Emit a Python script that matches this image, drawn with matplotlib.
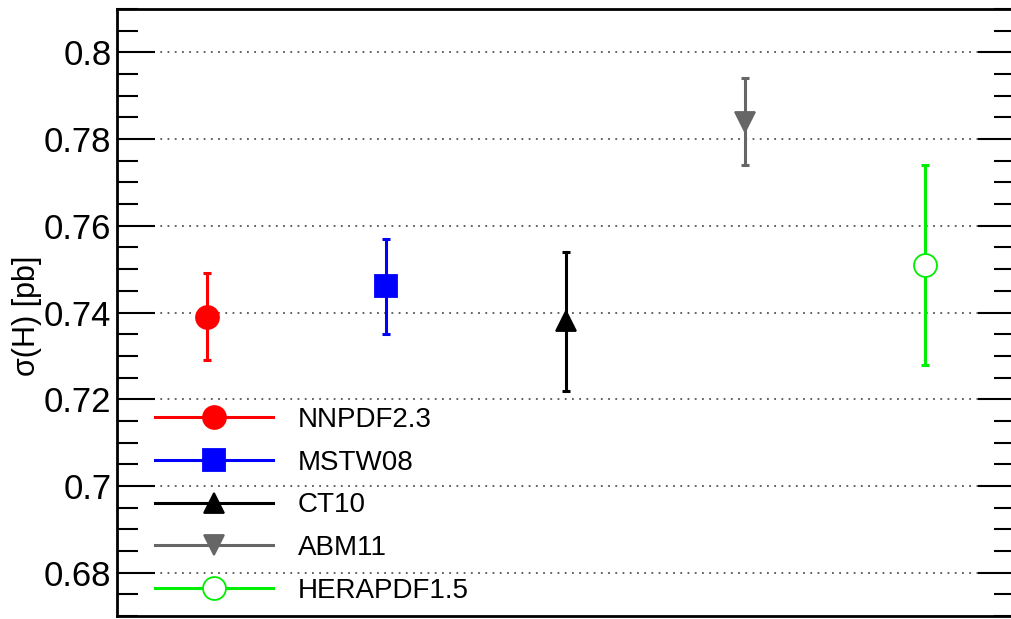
import matplotlib
matplotlib.use("Agg")
import matplotlib.pyplot as plt
from matplotlib.lines import Line2D
from matplotlib.ticker import MultipleLocator, FuncFormatter

plt.rcParams['font.family'] = ['Liberation Sans', 'DejaVu Sans']

pdf_sets = ["NNPDF2.3", "MSTW08", "CT10", "ABM11", "HERAPDF1.5"]
xsec = [0.739, 0.746, 0.738, 0.784, 0.751]
err_up = [0.010, 0.011, 0.016, 0.010, 0.023]
err_dn = [0.010, 0.011, 0.016, 0.010, 0.023]
colors = ["#ff0000", "#0000ff", "#000000", "#666666", "#00ee00"]
markers = ["o", "s", "^", "v", "o"]
filled = [True, True, True, True, False]
msizes = [16.5, 16, 15, 15, 16.5]

fig = plt.figure(figsize=(10.11, 6.19), dpi=100)
ax = fig.add_axes([117 / 1011, 3 / 619, (1014.5 - 117) / 1011, (616 - 9) / 619])

handles = []
for i, name in enumerate(pdf_sets):
    x = i + 1
    fc = colors[i] if filled[i] else "white"
    ax.errorbar([x], [xsec[i]], yerr=[[err_dn[i]], [err_up[i]]], fmt="none",
                ecolor=colors[i], elinewidth=2.2, capsize=2.6, capthick=2.2, zorder=3)
    ax.plot([x], [xsec[i]], marker=markers[i], ms=msizes[i], mfc=fc,
            mec=colors[i], mew=1.3, ls="none", zorder=4)
    handles.append(Line2D([], [], color=colors[i], lw=2.2, marker=markers[i],
                          ms=msizes[i], mfc=fc, mec=colors[i], mew=1.3))

ax.set_xlim(0.5, 5.5)
ax.set_ylim(0.67, 0.81)
ax.set_xticks([])
ax.yaxis.set_major_locator(MultipleLocator(0.02))
ax.yaxis.set_minor_locator(MultipleLocator(0.005))
ax.yaxis.set_major_formatter(FuncFormatter(lambda v, p: ("%g" % round(v, 3))))
ax.tick_params(axis="y", which="major", direction="in", length=27, width=1.5,
               labelsize=25, left=True, right=True, pad=4)
ax.tick_params(axis="y", which="minor", direction="in", length=15, width=1.5,
               left=True, right=True)
ax.grid(axis="y", which="major", ls=(0, (1, 3)), color="#555555", lw=1.3)
for s in ax.spines.values():
    s.set_linewidth(2)

ax.set_ylabel("σ(H) [pb]", fontsize=22)
ax.yaxis.set_label_coords((42 - 117) / 897.5, (616 - 316) / 607)

leg = ax.legend(handles, pdf_sets, loc="upper left",
                bbox_to_anchor=((155 - 117) / 897.5, (616 - 407) / 607),
                frameon=False, fontsize=20, handlelength=4.25, handletextpad=0.9,
                labelspacing=0.6, borderaxespad=0.0, borderpad=0.0)

fig.savefig("out.png", dpi=100)
